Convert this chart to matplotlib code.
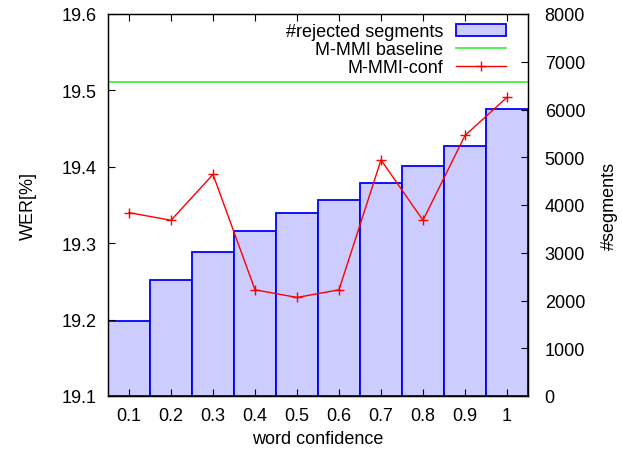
import matplotlib
matplotlib.use("Agg")
import matplotlib.pyplot as plt
import numpy as np

plt.rcParams["font.family"] = ["Liberation Sans", "DejaVu Sans"]
plt.rcParams["font.size"] = 13

# word confidence thresholds
conf = [0.1, 0.2, 0.3, 0.4, 0.5, 0.6, 0.7, 0.8, 0.9, 1.0]
conf_labels = ["0.1", "0.2", "0.3", "0.4", "0.5", "0.6", "0.7", "0.8", "0.9", "1"]
# number of rejected segments (right axis)
rejected = [1565, 2430, 3020, 3460, 3830, 4110, 4460, 4815, 5230, 6005]
# WER of confidence based system (left axis)
wer_conf = [19.340, 19.330, 19.390, 19.239, 19.229, 19.239, 19.409, 19.330, 19.441, 19.491]
wer_baseline = 19.511

fig = plt.figure(figsize=(6.22, 4.56), dpi=100)
ax = fig.add_axes([108 / 622, 59 / 456, 420 / 622, 382 / 456])
ax2 = ax.twinx()
ax.set_zorder(ax2.get_zorder() + 1)
ax.patch.set_visible(False)

bars = ax2.bar(conf, rejected, width=0.1, color="#ccccff", edgecolor="#0000ff",
               linewidth=1.3, label="#rejected segments")
base = ax.axhline(wer_baseline, color="#33ee33", linewidth=1.2, label="M-MMI baseline")
line, = ax.plot(conf, wer_conf, color="#ff0000", linewidth=1.0, marker="+",
                markersize=7, markeredgewidth=1.0, label="M-MMI-conf")

ax.set_xlim(0.05, 1.05)
ax.set_ylim(19.1, 19.6)
ax2.set_ylim(0, 8000)
ax.set_xticks(conf)
ax.set_xticklabels(conf_labels)
ax.set_yticks([19.1, 19.2, 19.3, 19.4, 19.5, 19.6])
ax2.set_yticks(np.arange(0, 8001, 1000))

ax.tick_params(axis="x", direction="in", length=5, top=True, pad=8)
ax.tick_params(axis="y", direction="in", length=5, right=False, pad=8)
ax2.tick_params(axis="y", direction="in", length=5, pad=12)

for a in (ax, ax2):
    for s in a.spines.values():
        s.set_linewidth(0.9)

ax.set_xlabel("word confidence", labelpad=4)
ax.set_ylabel("WER[%]", labelpad=18)
ax2.set_ylabel("#segments", labelpad=11)

ax.legend([bars, base, line], ["#rejected segments", "M-MMI baseline", "M-MMI-conf"],
          loc="upper right", bbox_to_anchor=(0.948, 0.976), frameon=False,
          markerfirst=False, handlelength=2.78, handletextpad=0.72,
          labelspacing=0.05, borderaxespad=0, borderpad=0)

fig.savefig("out.png", dpi=100)
